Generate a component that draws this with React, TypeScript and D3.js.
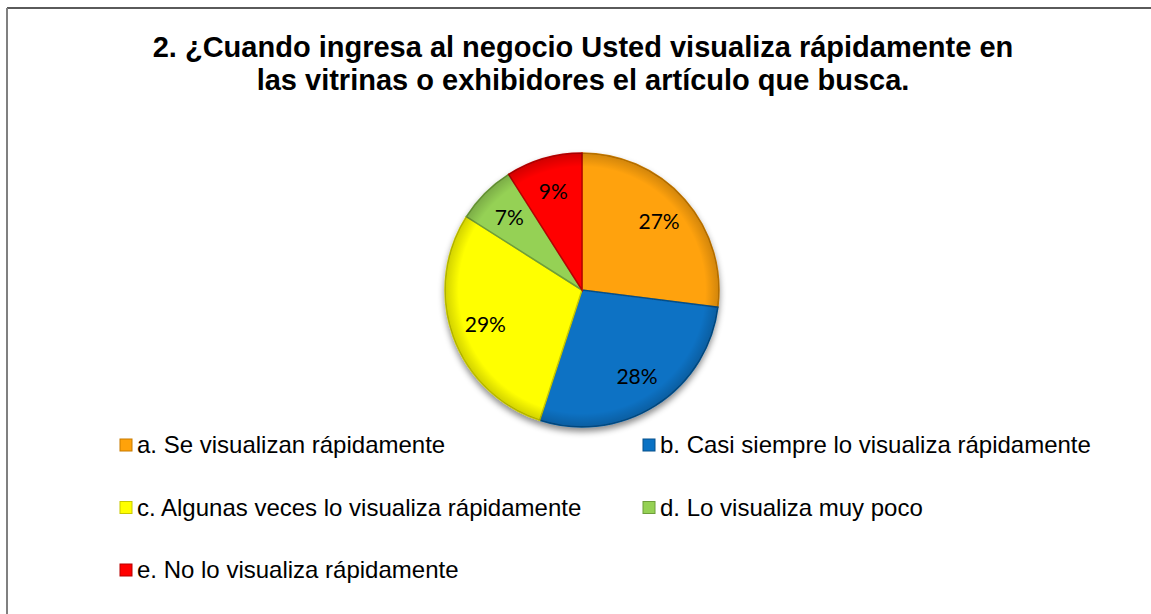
import React from "react";
import * as d3 from "d3";

const categories = [
  "a. Se visualizan rápidamente",
  "b. Casi siempre lo visualiza rápidamente",
  "c. Algunas veces lo visualiza rápidamente",
  "d. Lo visualiza muy poco",
  "e. No lo visualiza rápidamente",
];
const values = [27, 28, 29, 7, 9];
const colors = ["#FFA20A", "#0A72C4", "#FFFF00", "#95D154", "#FF0000"];
const edgeColors = ["#C77A00", "#06508C", "#C8C800", "#6E9E3A", "#B80000"];
const titleLines = [
  "2. ¿Cuando ingresa al negocio Usted visualiza rápidamente en",
  "las vitrinas o exhibidores el artículo que busca.",
];

const W = 1151;
const H = 614;

export default function App() {
  const cx = 582;
  const cy = 290;
  const radius = 137;

  const pie = d3.pie<number>().value((d) => d).sort(null);
  const arcs = pie(values);
  const arcGen = d3.arc<d3.PieArcDatum<number>>().innerRadius(0).outerRadius(radius);
  const labelArc = d3
    .arc<d3.PieArcDatum<number>>()
    .innerRadius(radius * 0.75)
    .outerRadius(radius * 0.75);

  // legend grid: 2 columns
  const colX = d3.scaleOrdinal<number, number>().domain([0, 1]).range([120, 643]);
  const rowY = d3.scaleLinear().domain([0, 2]).range([453, 578]);

  return (
    <div style={{ position: "absolute", left: 0, top: 0 }}>
      <svg width={W} height={H} style={{ display: "block" }}>
        <defs>
          <filter id="shadow" x="-20%" y="-20%" width="140%" height="140%">
            <feDropShadow dx="0" dy="4" stdDeviation="3" floodColor="#000" floodOpacity="0.45" />
          </filter>
          <radialGradient id="bevel" cx="0.5" cy="0.5" r="0.5">
            <stop offset="0.9" stopColor="#000" stopOpacity="0" />
            <stop offset="1" stopColor="#000" stopOpacity="0.18" />
          </radialGradient>
        </defs>
        <rect x={0} y={0} width={W} height={H} fill="#fff" />
        <line x1={7} y1={8} x2={W} y2={8} stroke="#5a5a5a" strokeWidth={2} />
        <line x1={7} y1={8} x2={7} y2={H} stroke="#808080" strokeWidth={2} />

        <g fontFamily="'Liberation Sans', Arial, sans-serif" fontWeight="bold" fontSize={29} textAnchor="middle">
          {titleLines.map((t, i) => (
            <text key={i} x={583} y={57 + i * 33} fill="#000">
              {t}
            </text>
          ))}
        </g>

        <g transform={`translate(${cx},${cy})`}>
          <g filter="url(#shadow)">
            {arcs.map((a, i) => (
              <path key={i} d={arcGen(a) || ""} fill={colors[i]} stroke={edgeColors[i]} strokeWidth={1.5} />
            ))}
          </g>
          <circle r={radius} fill="url(#bevel)" />
          {arcs.map((a, i) => {
            const [lx, ly] = labelArc.centroid(a);
            return (
              <text
                key={i}
                x={lx}
                y={ly}
                dy="0.35em"
                textAnchor="middle"
                fontFamily="Lato, 'Open Sans', sans-serif"
                fontSize={21}
                fill="#000"
              >
                {values[i]}%
              </text>
            );
          })}
        </g>

        <g fontFamily="'Liberation Sans', Arial, sans-serif" fontSize={24}>
          {categories.map((c, i) => {
            const x = colX(i % 2);
            const y = rowY(Math.floor(i / 2));
            return (
              <g key={i}>
                <rect x={x} y={y - 14} width={12} height={12} fill={colors[i]} stroke={edgeColors[i]} strokeWidth={1} />
                <text x={x + 17} y={y} fill="#000">
                  {c}
                </text>
              </g>
            );
          })}
        </g>
      </svg>
    </div>
  );
}
